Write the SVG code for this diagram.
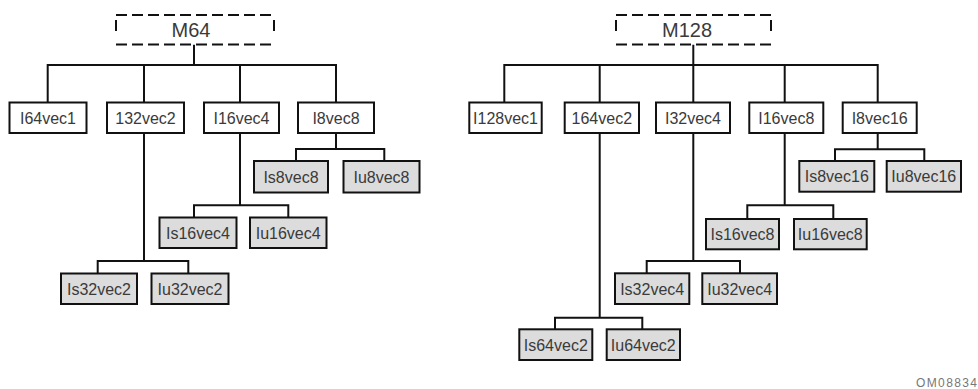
<svg xmlns="http://www.w3.org/2000/svg" width="978" height="389" viewBox="0 0 978 389">
<style>
.bg{fill:#fff}
.box rect{fill:#fff;stroke:#111;stroke-width:2}
.leaf rect{fill:#dcdcdc;stroke:#111;stroke-width:2}
.root line{stroke:#111;stroke-width:2;stroke-dasharray:11 5}
text{font-family:"Liberation Sans",Arial,sans-serif;font-size:16px;fill:#3a3a3a;text-anchor:middle}
.rt{font-size:20px}
#conn path{fill:none;stroke:#111;stroke-width:2}
.tag{font-size:12px;fill:#777;text-anchor:end}
</style>
<rect class="bg" x="0" y="0" width="978" height="389"/>
<g id="conn">
<path d="M194 44.7V65M47.7 103V65H336V103M144 65V103M240 65V103"/>
<path d="M144 133V261M97.7 273.5V261H188.3V273.5"/>
<path d="M240 133V205.3M194 217.5V205.3H288.3V217.5"/>
<path d="M336 133V149M296 161V149H384.3V161"/>
<path d="M693.3 44.7V65M504.3 102.5V65H877.7V102.5M599.7 65V102.5M693.3 65V102.5M784.7 65V102.5"/>
<path d="M599.7 133V317.7M555 329.3V317.7H642.3V329.3"/>
<path d="M693.3 133V261M646.7 273.3V261H740V273.3"/>
<path d="M784.7 133V205.3M747.3 219V205.3H833.3V219"/>
<path d="M877.7 133V149.3M835 161V149.3H924.3V161"/>
</g>
<g id="M64" class="root">
<line x1="116" y1="15" x2="274" y2="15"/>
<line x1="116" y1="44.5" x2="274" y2="44.5"/>
<line x1="116" y1="20" x2="116" y2="31" style="stroke-dasharray:none"/>
<line x1="274" y1="20" x2="274" y2="31" style="stroke-dasharray:none"/>
<text class="rt" x="191" y="36.5">M64</text>
</g>
<g id="I64vec1" class="box"><rect x="9.5" y="102.5" width="77" height="30.5"/><text x="48" y="123.5">I64vec1</text></g>
<g id="I32vec2" class="box"><rect x="107" y="102.5" width="77" height="30.5"/><text x="145.5" y="123.5">132vec2</text></g>
<g id="I16vec4" class="box"><rect x="204" y="102.5" width="75" height="30.5"/><text x="241.5" y="123.5">I16vec4</text></g>
<g id="I8vec8" class="box"><rect x="298" y="102.5" width="76" height="30.5"/><text x="336" y="123.5">I8vec8</text></g>
<g id="Is32vec2" class="leaf"><rect x="61" y="273.5" width="76" height="30.5"/><text x="99" y="294.5">Is32vec2</text></g>
<g id="Iu32vec2" class="leaf"><rect x="151.5" y="273.5" width="77" height="30.5"/><text x="190" y="294.5">Iu32vec2</text></g>
<g id="Is16vec4" class="leaf"><rect x="159.5" y="217.5" width="77" height="30.5"/><text x="198" y="238.5">Is16vec4</text></g>
<g id="Iu16vec4" class="leaf"><rect x="250" y="217.5" width="76.5" height="30.5"/><text x="288.2" y="238.5">Iu16vec4</text></g>
<g id="Is8vec8" class="leaf"><rect x="254" y="161" width="74" height="31.5"/><text x="291" y="182.5">Is8vec8</text></g>
<g id="Iu8vec8" class="leaf"><rect x="343.5" y="161" width="76" height="31.5"/><text x="381.5" y="182.5">Iu8vec8</text></g>
<g id="M128" class="root">
<line x1="616" y1="15" x2="771" y2="15"/>
<line x1="616" y1="44.5" x2="771" y2="44.5"/>
<line x1="616" y1="20" x2="616" y2="31" style="stroke-dasharray:none"/>
<line x1="771" y1="20" x2="771" y2="31" style="stroke-dasharray:none"/>
<text class="rt" x="687" y="36.5">M128</text>
</g>
<g id="I128vec1" class="box"><rect x="469.3" y="102.5" width="72.4" height="30.5"/><text x="505.5" y="123.5">I128vec1</text></g>
<g id="I64vec2" class="box"><rect x="564.7" y="102.5" width="74.3" height="30.5"/><text x="601.8" y="123.5">164vec2</text></g>
<g id="I32vec4" class="box"><rect x="656" y="102.5" width="74" height="30.5"/><text x="693" y="123.5">I32vec4</text></g>
<g id="I16vec8" class="box"><rect x="749.3" y="102.5" width="74" height="30.5"/><text x="786.3" y="123.5">I16vec8</text></g>
<g id="I8vec16" class="box"><rect x="842.7" y="102.5" width="74" height="30.5"/><text x="879.7" y="123.5">I8vec16</text></g>
<g id="Is64vec2" class="leaf"><rect x="519.3" y="329.3" width="73" height="30.7"/><text x="555.8" y="350.5">Is64vec2</text></g>
<g id="Iu64vec2" class="leaf"><rect x="606.7" y="329.3" width="73.3" height="30.7"/><text x="643.3" y="350.5">Iu64vec2</text></g>
<g id="Is32vec4" class="leaf"><rect x="615" y="273.3" width="74.3" height="30.7"/><text x="652.2" y="294.5">Is32vec4</text></g>
<g id="Iu32vec4" class="leaf"><rect x="702.3" y="273.3" width="74.7" height="30.7"/><text x="739.7" y="294.5">Iu32vec4</text></g>
<g id="Is16vec8" class="leaf"><rect x="706" y="219" width="73" height="30.3"/><text x="742.5" y="240">Is16vec8</text></g>
<g id="Iu16vec8" class="leaf"><rect x="794" y="219" width="72.7" height="30.3"/><text x="830.3" y="240">Iu16vec8</text></g>
<g id="Is8vec16" class="leaf"><rect x="799.3" y="161" width="75" height="30.7"/><text x="836.8" y="182">Is8vec16</text></g>
<g id="Iu8vec16" class="leaf"><rect x="886.7" y="161" width="74.3" height="30.7"/><text x="923.8" y="182">Iu8vec16</text></g>
<text class="tag" x="977" y="387" textLength="61">OM08834</text>
</svg>
